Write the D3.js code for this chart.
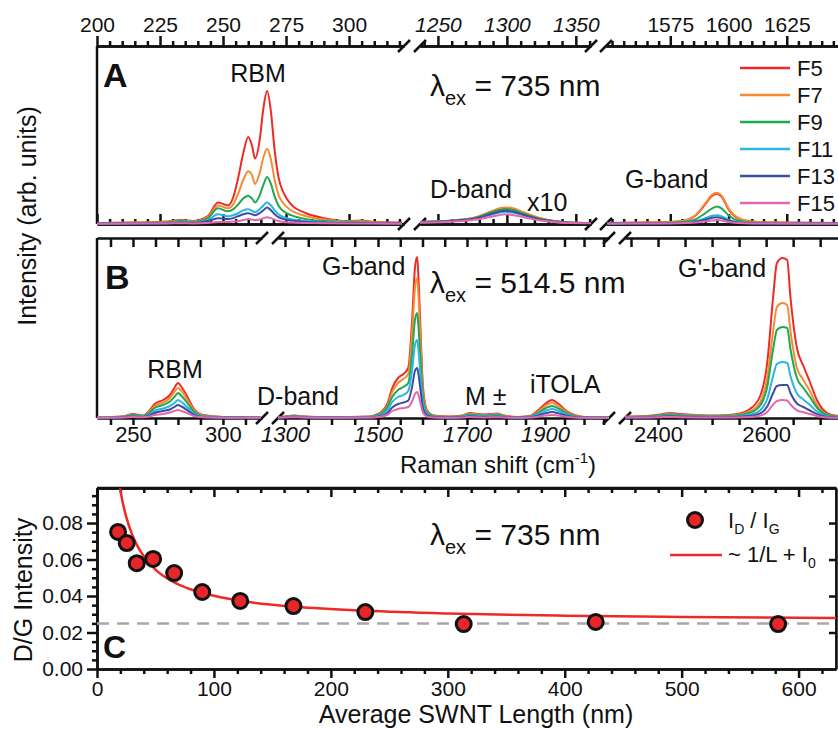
<!DOCTYPE html>
<html>
<head>
<meta charset="utf-8">
<script src="https://cdnjs.cloudflare.com/ajax/libs/d3/7.8.5/d3.min.js"></script>
<style>
  body { margin: 0; background: #fff; }
  svg { font-family: "Liberation Sans", Arial, Helvetica, sans-serif; }
  .axis path, .axis line { stroke: #111; stroke-width: 2.5; }
  .axis text { fill: #111; }
</style>
</head>
<body>
<svg id="chart" width="838" height="730"></svg>
<script>
// series
var seriesNames = ["F5", "F7", "F9", "F11", "F13", "F15"];
var seriesColors = ["#ee2a24", "#f68b33", "#1fa84f", "#29b6e3", "#3c4ea0", "#e466ae"];

// panel A (735 nm) -- RBM window
var aRbmShift = [200, 215, 228, 233, 238, 244, 248, 252, 254, 256, 258, 260, 261.5, 262.7, 264.5, 266, 267.5, 269, 270.5, 272, 274, 277, 283, 290, 300, 305, 310, 321];
var aRbmIntensity = [
  [1, 1.5, 2.5, 4, 3, 8, 22, 19, 27, 47, 72, 89, 80, 67, 85, 118, 136, 115, 75, 48, 32, 20, 11, 6, 3, 3.5, 2, 1.5],
  [1, 1.5, 2, 3.5, 2.5, 7, 19, 16, 20, 31, 45, 54, 50, 41, 52, 68, 77, 66, 45, 30, 21, 14, 8, 4.5, 2.5, 3, 1.5, 1],
  [0.8, 1, 1.5, 3, 2, 6, 16, 13, 15, 20, 26, 29, 26, 22, 29, 40, 48, 41, 28, 19, 13, 9, 5, 3, 2, 2, 1, 1],
  [0.6, 0.8, 1, 2, 1.5, 4, 10, 8, 9, 11, 14, 15, 13.5, 12, 15, 19, 22, 19, 14, 10, 7, 5, 3, 2, 1.5, 1.5, 1, 0.8],
  [0.5, 0.6, 0.8, 1.5, 1, 3, 6, 5, 6, 8, 10, 11, 10, 9, 11, 14, 17, 14, 10, 7, 5, 3.5, 2, 1.5, 1, 1, 0.8, 0.6],
  [0.3, 0.4, 0.5, 0.8, 0.6, 1, 2, 2, 2.5, 3, 4, 5, 4.5, 4, 4.5, 6, 7, 6, 4.5, 3, 2, 1.5, 1, 0.7, 0.5, 0.5, 0.4, 0.3]
];
// panel A -- D-band window (x10)
var aDShift = [1237, 1255, 1268, 1278, 1287, 1294, 1299, 1305, 1312, 1322, 1334, 1346, 1361];
var aDIntensity = [
  [2, 3, 4.5, 7, 11.5, 15, 16, 15, 11.5, 6.5, 3, 1.5, 1],
  [2, 3, 4.5, 7, 12, 16, 17, 16, 12, 7, 3, 1.5, 1],
  [2, 3, 4, 6.5, 11, 14, 15, 14, 10.5, 6, 3, 1.5, 1],
  [1.5, 2.5, 3.5, 5.5, 9, 11.5, 12.5, 11.5, 9, 5, 2.5, 1, 1],
  [1.5, 2.5, 4, 6, 9.5, 12.5, 13.5, 12.5, 9.5, 5.5, 2.5, 1, 1],
  [1.5, 2, 3, 4.5, 7, 9, 10, 9, 7, 4, 2, 1, 0.8]
];
// panel A -- G-band window
var aGShift = [1548, 1565, 1575, 1582, 1586, 1590, 1593, 1595, 1597, 1600, 1604, 1610, 1620, 1647];
var aGIntensity = [
  [1, 1.5, 2, 4, 9, 20, 29, 31, 28, 15, 6, 2.5, 1.5, 1],
  [1, 1.5, 2, 4, 9.5, 21, 30, 32, 29, 16, 6.5, 2.5, 1.5, 1],
  [0.8, 1, 1.5, 2.5, 5, 11, 16, 18, 16, 9, 3.5, 1.5, 1, 0.8],
  [0.6, 0.8, 1, 1.5, 3, 6, 8.5, 9, 8, 4.5, 2, 1, 0.8, 0.6],
  [0.5, 0.7, 0.8, 1.2, 2.5, 4.5, 6.5, 7, 6, 3.5, 1.5, 0.8, 0.6, 0.5],
  [0.3, 0.5, 0.6, 0.9, 1.5, 2.5, 3.5, 4, 3.5, 2, 1, 0.5, 0.4, 0.3]
];

// panel B (514.5 nm) -- RBM window
var bRbmShift = [230, 244.5, 250, 255.5, 259, 262, 266.7, 270.5, 273, 275, 277, 280, 283.5, 289, 300, 310, 321];
var bRbmIntensity = [
  [0.5, 1.5, 4, 2.5, 7, 14, 18, 23, 30, 35, 31, 22, 10, 3, 1, 0.8, 0.5],
  [0.5, 1.5, 3.5, 2.2, 6, 12, 15.5, 20, 26, 30, 27, 19, 8.5, 2.5, 1, 0.7, 0.5],
  [0.5, 1.3, 3, 2, 5, 10, 13, 16.5, 21, 25, 22, 15.5, 7, 2, 0.8, 0.6, 0.5],
  [0.4, 1, 2.2, 1.5, 3.5, 7, 9.5, 12, 15, 18, 16, 11, 5, 1.5, 0.6, 0.5, 0.4],
  [0.3, 0.8, 1.6, 1, 2.5, 5, 7, 8.5, 11, 13, 11.5, 8, 3.5, 1, 0.5, 0.4, 0.3],
  [0.2, 0.5, 1, 0.7, 1.5, 3, 4, 5.5, 7, 8, 7, 5, 2.2, 0.7, 0.3, 0.3, 0.2]
];
// panel B -- D, G, M and iTOLA window
var bMidShift = [1285, 1300, 1320, 1340, 1400, 1480, 1500, 1520, 1532, 1545, 1557, 1568, 1577, 1583, 1588, 1591, 1595, 1601, 1610, 1625, 1660, 1690, 1708, 1725, 1745, 1765, 1777, 1795, 1830, 1860, 1880, 1900, 1918, 1935, 1955, 1975, 2000, 2064];
var bMidIntensity = [
  [1, 1.5, 2.5, 1.5, 0.8, 1.5, 4, 13, 30, 40, 44, 50, 100, 150, 161, 140, 95, 32, 8, 2.5, 1.5, 2.5, 5, 4, 3.5, 4, 4.5, 2.5, 1, 2, 7, 14, 18, 14, 7, 3, 1, 0.5],
  [0.9, 1.3, 2.2, 1.3, 0.7, 1.3, 3.5, 11, 26, 35, 39, 44, 87, 130, 140, 122, 83, 28, 7, 2.2, 1.3, 2.2, 4.3, 3.5, 3, 3.5, 3.9, 2.2, 0.9, 1.7, 6, 12, 15, 12, 6, 2.5, 0.9, 0.5],
  [0.8, 1.2, 2, 1.2, 0.6, 1.1, 3, 10, 21, 28, 31, 35, 66, 98, 105, 91, 62, 21, 5.5, 1.8, 1, 1.8, 3.5, 2.8, 2.5, 2.8, 3.2, 1.8, 0.7, 1.4, 4.8, 9.5, 12, 9.5, 4.8, 2, 0.7, 0.4],
  [0.7, 1, 1.6, 1, 0.5, 0.9, 2.3, 7, 16, 21, 23, 27, 49, 73, 78, 68, 46, 16, 4, 1.3, 0.8, 1.3, 2.6, 2.1, 1.9, 2.1, 2.4, 1.3, 0.5, 1, 3.5, 7, 9, 7, 3.5, 1.5, 0.5, 0.3],
  [0.5, 0.8, 1.2, 0.8, 0.4, 0.6, 1.5, 4.5, 10.5, 14, 15.5, 17.5, 32, 47, 50, 44, 30, 10, 2.6, 0.9, 0.5, 0.9, 1.7, 1.4, 1.2, 1.4, 1.6, 0.9, 0.4, 0.7, 2.3, 4.6, 6, 4.6, 2.3, 1, 0.4, 0.2],
  [0.3, 0.5, 0.8, 0.5, 0.3, 0.4, 1, 3, 7, 9, 10, 11, 17, 24, 26, 23, 16, 5.5, 1.4, 0.5, 0.3, 0.5, 0.9, 0.7, 0.6, 0.7, 0.8, 0.5, 0.2, 0.4, 1.2, 2.4, 3, 2.4, 1.2, 0.5, 0.2, 0.1]
];
// panel B -- G'-band window
var bG2Shift = [2339, 2380, 2405, 2422, 2440, 2470, 2510, 2540, 2570, 2589, 2602, 2613, 2620, 2630, 2639, 2645, 2657, 2669, 2681, 2694, 2713, 2733];
var bG2Intensity = [
  [1.5, 2, 3.5, 5, 4, 3, 2.5, 3.5, 9, 22, 55, 121, 155, 160, 158, 121, 70, 52, 36, 18, 5, 2],
  [1.2, 1.6, 3, 4.2, 3.3, 2.5, 2, 2.8, 6.5, 16, 40, 87, 111, 115, 113, 87, 50, 38, 27, 13, 3.6, 1.5],
  [1, 1.4, 2.6, 3.6, 2.8, 2.1, 1.7, 2.2, 5.2, 12.5, 31, 69, 88, 91, 90, 69, 40, 30, 21, 10.5, 3, 1.3],
  [0.8, 1, 1.8, 2.5, 2, 1.5, 1.2, 1.5, 3.2, 7.7, 19, 42, 54, 56, 55, 42, 24.5, 18.5, 13, 6.5, 1.8, 0.8],
  [0.6, 0.8, 1.3, 1.8, 1.4, 1, 0.8, 1, 1.9, 4.6, 11.5, 25, 32, 33, 33, 25, 14.5, 11, 7.5, 3.8, 1.1, 0.5],
  [0.4, 0.5, 0.8, 1, 0.8, 0.6, 0.5, 0.6, 1, 2.4, 6, 13.5, 17, 18, 17.5, 13.5, 7.7, 5.7, 4, 2, 0.6, 0.3]
];

// panel C
var lengthNm = [18, 25.4, 34, 48, 66, 90, 122.5, 168, 229.5, 313.6, 426.5, 582.5];
var ratioDG = [0.0751, 0.0690, 0.0580, 0.0603, 0.0526, 0.0422, 0.0373, 0.0345, 0.0312, 0.0246, 0.0258, 0.0246];
var fitLength = [19.7, 22, 25, 30, 35, 40, 50, 65, 80, 100, 130, 170, 230, 300, 400, 500, 632];
var fitRatio = [0.099, 0.0913, 0.0834, 0.0738, 0.0669, 0.0618, 0.0545, 0.0478, 0.0437, 0.0401, 0.0367, 0.0341, 0.0319, 0.0304, 0.0292, 0.0285, 0.0279];
var limitRatio = 0.025;

// tick labels
var aTicksRbm = [200, 225, 250, 275, 300];
var aTicksD = [1250, 1300, 1350];
var aTicksG = [1575, 1600, 1625];
var bTicksRbm = [250, 300];
var bTicksMid = [1300, 1500, 1700, 1900];
var bTicksG2 = [2400, 2600];
var cTicksX = [0, 100, 200, 300, 400, 500, 600];
var cTicksY = [0, 0.02, 0.04, 0.06, 0.08];

var svg = d3.select("#chart");

function axisPart(scale, orient, pos, values, len, labels, size, italic, pad) {
  var mk = {top: d3.axisTop, bottom: d3.axisBottom, left: d3.axisLeft, right: d3.axisRight}[orient];
  var horiz = orient == "top" || orient == "bottom";
  var ax = mk(scale).tickValues(values).tickSize(len).tickSizeOuter(0).tickPadding(pad == null ? 4 : pad);
  ax.tickFormat(labels ? labels : "");
  var g = svg.append("g")
    .attr("class", "axis")
    .attr("transform", horiz ? "translate(0," + pos + ")" : "translate(" + pos + ",0)")
    .call(ax)
    .attr("font-family", null)
    .attr("font-size", size || 20);
  g.selectAll("text").style("font-style", italic ? "italic" : "normal");
  return g;
}

function slash(cx, cy) {
  svg.append("line")
    .attr("x1", cx - 6).attr("y1", cy + 6)
    .attr("x2", cx + 6).attr("y2", cy - 6)
    .attr("stroke", "#111").attr("stroke-width", 2.5);
}

function spectra(xs, ys, x, y) {
  var line = d3.line()
    .x(function(d, i) { return x(xs[i]); })
    .y(function(d) { return y(d); })
    .curve(d3.curveMonotoneX);
  ys.forEach(function(arr, k) {
    svg.append("path")
      .attr("d", line(arr))
      .attr("fill", "none")
      .attr("stroke", seriesColors[k])
      .attr("stroke-width", 2);
  });
}

function label(x, y, txt, size, opts) {
  opts = opts || {};
  return svg.append("text")
    .attr("x", x).attr("y", y)
    .attr("font-size", size)
    .attr("font-weight", opts.bold ? "bold" : null)
    .attr("text-anchor", opts.anchor || "start")
    .attr("fill", "#111")
    .text(txt);
}

function lambdaLabel(x, y, rest) {
  var t = svg.append("text").attr("x", x).attr("y", y).attr("font-size", 30).attr("fill", "#111");
  t.append("tspan").text("\u03bb");
  t.append("tspan").attr("font-size", 20).attr("dy", 9).text("ex");
  t.append("tspan").attr("dy", -9).text(" = " + rest);
}

// ---------- panel A ----------
var aTop = 46, aBot = 224;
var aY = d3.scaleLinear().domain([0, 180]).range([aBot, aTop + 2]);
var aSegs = [
  {x: d3.scaleLinear().domain([200, 321.8]).range([97, 404]), major: aTicksRbm, minor: d3.range(205, 321, 5), it: false, xs: aRbmShift, ys: aRbmIntensity},
  {x: d3.scaleLinear().domain([1237, 1361]).range([420, 591]), major: aTicksD, minor: d3.range(1240, 1361, 10), it: true, xs: aDShift, ys: aDIntensity},
  {x: d3.scaleLinear().domain([1547.4, 1647]).range([606, 838]), major: aTicksG, minor: d3.range(1550, 1647, 5), it: false, xs: aGShift, ys: aGIntensity}
];
aSegs.forEach(function(s) {
  var minors = s.minor.filter(function(v) { return s.major.indexOf(v) < 0; });
  axisPart(s.x, "top", aTop, minors, 5);
  axisPart(s.x, "top", aTop, s.major, 10, d3.format("d"), 21, s.it);
  axisPart(s.x, "bottom", aBot, minors, -5);
  axisPart(s.x, "bottom", aBot, s.major, -10);
});
svg.append("line").attr("x1", 97).attr("x2", 97).attr("y1", aTop).attr("y2", aBot)
  .attr("stroke", "#111").attr("stroke-width", 2.5);
[404, 420, 591, 606].forEach(function(cx) { slash(cx, aTop); slash(cx, aBot); });
aSegs.forEach(function(s) { spectra(s.xs, s.ys, s.x, aY); });

label(103, 87, "A", 34, {bold: true});
label(258, 82, "RBM", 25, {anchor: "middle"});
lambdaLabel(430, 96, "735 nm");
label(430, 198, "D-band", 25);
label(527, 211, "x10", 25);
label(625, 188, "G-band", 25);
seriesNames.forEach(function(n, i) {
  var yy = 68 + 27 * i;
  svg.append("line").attr("x1", 740).attr("x2", 790).attr("y1", yy).attr("y2", yy)
    .attr("stroke", seriesColors[i]).attr("stroke-width", 2.5);
  label(797, yy + 8, n, 22);
});

// ---------- panel B ----------
var bTop = 238, bBot = 418;
var bY = d3.scaleLinear().domain([0, 180]).range([bBot, bTop]);
var bSegs = [
  {x: d3.scaleLinear().domain([230, 321.7]).range([97, 262]), major: bTicksRbm, ticks: d3.range(237.5, 321, 12.5), it: false, xs: bRbmShift, ys: bRbmIntensity},
  {x: d3.scaleLinear().domain([1285, 1300, 1500, 1700, 1900, 2064]).range([278, 285, 378, 467, 545, 609]), major: bTicksMid, ticks: d3.range(1300, 2064, 50), it: true, xs: bMidShift, ys: bMidIntensity},
  {x: d3.scaleLinear().domain([2338.9, 2733]).range([625, 838]), major: bTicksG2, ticks: d3.range(2350, 2733, 50), it: false, xs: bG2Shift, ys: bG2Intensity}
];
bSegs.forEach(function(s) {
  axisPart(s.x, "top", bTop, s.ticks, -9);
  axisPart(s.x, "bottom", bBot, s.ticks, 7, function(v) { return s.major.indexOf(v) >= 0 ? v : ""; }, 22, s.it, 1);
});
svg.append("line").attr("x1", 97).attr("x2", 97).attr("y1", bTop).attr("y2", bBot)
  .attr("stroke", "#111").attr("stroke-width", 2.5);
[262, 278, 609, 625].forEach(function(cx) { slash(cx, bTop); slash(cx, bBot); });
bSegs.forEach(function(s) { spectra(s.xs, s.ys, s.x, bY); });

label(105, 289, "B", 34, {bold: true});
label(175, 378, "RBM", 25, {anchor: "middle"});
label(257, 405, "D-band", 25);
label(322, 275, "G-band", 25);
lambdaLabel(430, 293, "514.5 nm");
label(465, 405, "M \u00b1", 25);
label(530, 393, "iTOLA", 25);
label(678, 277, "G'-band", 25);

var rs = svg.append("text").attr("x", 498).attr("y", 473).attr("font-size", 24)
  .attr("text-anchor", "middle").attr("fill", "#111");
rs.append("tspan").text("Raman shift (cm");
rs.append("tspan").attr("font-size", 15).attr("dy", -10).text("-1");
rs.append("tspan").attr("dy", 10).text(")");

svg.append("text")
  .attr("transform", "translate(36,216) rotate(-90)")
  .attr("text-anchor", "middle").attr("font-size", 25).attr("fill", "#111")
  .text("Intensity (arb. units)");

// ---------- panel C ----------
var cTop = 488, cBot = 669, cL = 97, cR = 836;
var cx = d3.scaleLinear().domain([0, 632]).range([cL, cR]);
var cy = d3.scaleLinear().domain([0, 0.0992]).range([cBot, cTop]);
var xMinor = d3.range(20, 632, 20).filter(function(v) { return v % 100 != 0; });
var yMinor = d3.range(0.005, 0.099, 0.005).filter(function(v) { return Math.abs(v / 0.02 - Math.round(v / 0.02)) > 0.01; });

axisPart(cx, "bottom", cBot, xMinor, 5);
axisPart(cx, "bottom", cBot, cTicksX, 9, d3.format("d"), 21, false, 3);
axisPart(cx, "top", cTop, xMinor, -5);
axisPart(cx, "top", cTop, cTicksX, -9);
axisPart(cy, "left", cL, yMinor, 5);
axisPart(cy, "left", cL, cTicksY, 10, d3.format(".2f"), 21);
axisPart(cy, "right", cR, cTicksY.slice(1), -7);
svg.append("line").attr("x1", cL).attr("x2", cR).attr("y1", cTop).attr("y2", cTop)
  .attr("stroke", "#111").attr("stroke-width", 2.5);
svg.append("line").attr("x1", cR).attr("x2", cR).attr("y1", cTop).attr("y2", cBot)
  .attr("stroke", "#111").attr("stroke-width", 1.5);

svg.append("line")
  .attr("x1", cL).attr("x2", cR).attr("y1", cy(limitRatio)).attr("y2", cy(limitRatio))
  .attr("stroke", "#a8a8a8").attr("stroke-width", 2.5).attr("stroke-dasharray", "12,8");

var fitLine = d3.line()
  .x(function(d, i) { return cx(fitLength[i]); })
  .y(function(d) { return cy(d); })
  .curve(d3.curveMonotoneX);
svg.append("path").attr("d", fitLine(fitRatio))
  .attr("fill", "none").attr("stroke", "#ee2a24").attr("stroke-width", 2.5);

svg.selectAll("circle.pt").data(ratioDG).enter().append("circle")
  .attr("class", "pt")
  .attr("cx", function(d, i) { return cx(lengthNm[i]); })
  .attr("cy", function(d) { return cy(d); })
  .attr("r", 7.5)
  .attr("fill", "#e8262a").attr("stroke", "#111").attr("stroke-width", 3);

label(103, 658, "C", 32, {bold: true});
lambdaLabel(430, 545, "735 nm");

svg.append("circle").attr("cx", 695).attr("cy", 520).attr("r", 7.5)
  .attr("fill", "#e8262a").attr("stroke", "#111").attr("stroke-width", 3);
var l1 = svg.append("text").attr("x", 728).attr("y", 528).attr("font-size", 22).attr("fill", "#111");
l1.append("tspan").text("I");
l1.append("tspan").attr("font-size", 14).attr("dy", 6).text("D");
l1.append("tspan").attr("dy", -6).text(" / I");
l1.append("tspan").attr("font-size", 14).attr("dy", 6).text("G");
svg.append("line").attr("x1", 670).attr("x2", 722).attr("y1", 555).attr("y2", 555)
  .attr("stroke", "#ee2a24").attr("stroke-width", 2.5);
var l2 = svg.append("text").attr("x", 728).attr("y", 562).attr("font-size", 22).attr("fill", "#111");
l2.append("tspan").text("~ 1/L + I");
l2.append("tspan").attr("font-size", 14).attr("dy", 6).text("0");

svg.append("text")
  .attr("x", 476).attr("y", 723).attr("text-anchor", "middle")
  .attr("font-size", 25).attr("fill", "#111")
  .text("Average SWNT Length (nm)");
svg.append("text")
  .attr("transform", "translate(32,590) rotate(-90)")
  .attr("text-anchor", "middle").attr("font-size", 25).attr("fill", "#111")
  .text("D/G Intensity");
</script>
</body>
</html>
